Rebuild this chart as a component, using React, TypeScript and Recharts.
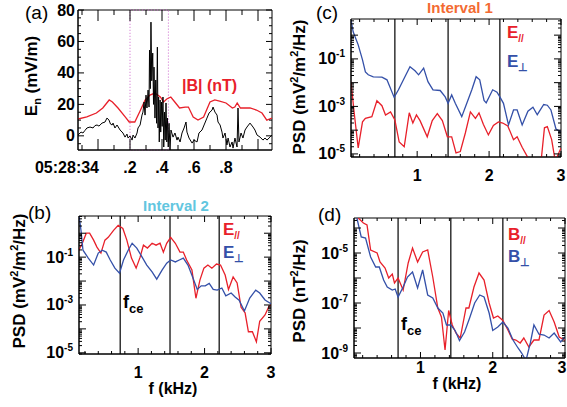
import React from 'react'
import { LineChart, Line, XAxis, YAxis, ReferenceLine, ReferenceArea } from 'recharts'

const FONT = 'Liberation Sans, Arial, Helvetica, sans-serif'
const RED = '#e8202a'
const BLUE = '#3450a8'
const ORANGE = '#f36b32'
const CYAN = '#62c6df'
const PAGE_W = 567

// ---- (a) time series, seconds after 05:28:34 ----
const enTime = [
  -0.125, -0.106, -0.094, -0.081, -0.069, -0.05, -0.031, -0.019, -0.006, 0.006, 0.025, 0.044, 0.056, 0.069,
  0.078, 0.088, 0.094, 0.106, 0.119, 0.138, 0.156, 0.169, 0.181, 0.188, 0.2, 0.213, 0.219, 0.231, 0.244, 0.25,
  0.263, 0.275, 0.281, 0.288, 0.294, 0.3, 0.306, 0.313, 0.319, 0.322, 0.327, 0.331, 0.336, 0.342, 0.347, 0.35,
  0.356, 0.361, 0.366, 0.371, 0.375, 0.379, 0.383, 0.388, 0.392, 0.397, 0.401, 0.406, 0.411, 0.416, 0.42,
  0.425, 0.43, 0.434, 0.439, 0.444, 0.45, 0.456, 0.469, 0.481, 0.494, 0.5, 0.513, 0.525, 0.538, 0.55, 0.556,
  0.569, 0.588, 0.6, 0.619, 0.631, 0.65, 0.663, 0.681, 0.694, 0.713, 0.719, 0.731, 0.744, 0.75, 0.763, 0.775,
  0.781, 0.794, 0.806, 0.813, 0.825, 0.838, 0.844, 0.856, 0.869, 0.875, 0.881, 0.894, 0.906, 0.919, 0.931,
  0.95, 0.969, 0.981, 0.994, 1.013, 1.031, 1.044, 1.056, 1.075, 1.0875,
]
const enValues = [
  0.5, 2.4, 1.8, 3.5, 5, 5.6, 5, 6.5, 6.9, 6.2, 8.1, 8.8, 11.3, 10,
  7.5, 6.9, 8.1, 5, 6.9, 3.7, 1.8, -0.8, 1.1, -1.4, -0.1, -2.7, 0.5, -1.4, 1.8, 5,
  6.9, 13.2, 15.1, 21.5, 13.2, 25.9, 17.7, 29.1, 18.3, 54.5, 30, 72.3, 35, 52.6, 20, 43.7,
  11.3, 35.5, 8, 56.4, 5, 24.7, -3.9, 22.8, 2.4, 21.5, 6, 24.7, -7.1, 15.1, -2.7,
  20.9, -3.9, 11.3, -7.1, 8, -9, 3.7, -0.8, 1.8, -2.7, -0.8, -3.9, 1.8, 5, 8.8, 2.4,
  -1.4, -4.6, -2.7, -3.9, 1.8, 3.7, 6.9, 11.3, 14.5, 16.4, 18.3, 15.1, 13.2, 8.8, 6.9, 2.4,
  -1.4, 1.8, -5.8, -1.4, -7.1, -3.9, -7.8, -1.4, -7.1, 17.7, -3.9, 1.8, -1.4, 3.7, 5.6,
  8.1, 5.6, 3.7, 0.5, -0.8, -2.7, -1.4, -2.7, -0.8, 0.5,
]
const bTime = [
  -0.125, -0.07, -0.01, 0.03, 0.07, 0.09, 0.125, 0.17, 0.195, 0.23, 0.26, 0.295, 0.325, 0.355, 0.39, 0.41,
  0.43, 0.455, 0.48, 0.51, 0.545, 0.565, 0.595, 0.625, 0.66, 0.7, 0.73, 0.76, 0.8, 0.84, 0.855, 0.87, 0.89,
  0.92, 0.95, 0.99, 1.025, 1.055, 1.0875,
]
const bValues = [
  10.7, 12, 14.5, 17.7, 22.8, 21.5, 17.7, 12, 8.8, 8.8, 15.1, 22.8, 25.9, 27.2, 24.7, 21.5,
  23.4, 24.7, 21.5, 17.7, 18.3, 18.3, 12, 10, 12, 21.5, 22.8, 22.1, 20.9, 17.7, 18.3, 20.9, 17.7,
  17.7, 17.7, 16.4, 14.5, 10, 11.3,
]
const timeTicks = [-0.1, 0, 0.1, 0.2, 0.3, 0.4, 0.5, 0.6, 0.7, 0.8, 0.9, 1.0]
const timeLabels: Record<string, string> = { '0': '05:28:34', '0.2': '.2', '0.4': '.4', '0.6': '.6', '0.8': '.8' }
const enTicks = [-5, 0, 5, 10, 15, 20, 25, 30, 35, 40, 45, 50, 55, 60, 65, 70, 75, 80]
const enLabels = [0, 20, 40, 60, 80]

// ---- (b) interval 2, electric PSD (log10 values) ----
const bParF = [
  0.1, 0.16, 0.22, 0.27, 0.33, 0.38, 0.44, 0.5, 0.55, 0.63, 0.7, 0.77, 0.83, 0.9, 0.97, 1.03, 1.08, 1.14,
  1.21, 1.27, 1.33, 1.38, 1.43, 1.49, 1.56, 1.63, 1.68, 1.73, 1.81, 1.87, 1.93, 1.99, 2.05, 2.11, 2.18, 2.24,
  2.31, 2.36, 2.43, 2.49, 2.55, 2.61, 2.66, 2.72, 2.78, 2.83, 2.91, 2.97, 3.0,
]
const bParLog = [
  -0.75, -0.42, 0, 0, -0.29, -0.58, -0.83, -0.29, -0.17, 0.12, 0.33, 0.2, -0.29, -1.04, -1.46, -1.0, -0.5, -0.62,
  -0.42, -0.5, -0.42, -0.79, -0.42, -0.17, -0.42, -0.79, -0.79, -1.12, -1.54, -2.72, -1.96, -1.46, -1.33, -1.46, -1.29, -1.33,
  -1.75, -2.35, -1.83, -2.08, -3.1, -3.33, -4.12, -4.12, -4.54, -3.68, -3.42, -3.05, -3.0,
]
const bPerpF = [
  0.11, 0.14, 0.17, 0.25, 0.33, 0.4, 0.46, 0.52, 0.58, 0.65, 0.72, 0.78, 0.85, 0.91, 0.98, 1.06, 1.13, 1.21,
  1.28, 1.36, 1.43, 1.49, 1.56, 1.62, 1.68, 1.75, 1.82, 1.89, 1.95, 2.01, 2.07, 2.13, 2.19, 2.26, 2.32, 2.4,
  2.46, 2.52, 2.6, 2.68, 2.77, 2.83, 2.91, 3.0,
]
const bPerpLog = [
  0.75, 0.12, -0.71, -1.04, -1.33, -0.83, -0.71, -0.79, -1.12, -1.46, -1.67, -1.12, -0.71, -0.42, -0.62, -1.0, -1.33, -1.62,
  -1.92, -1.54, -1.25, -1.12, -1.2, -1.12, -1.04, -1.33, -1.83, -2.35, -2.2, -2.2, -2.1, -2.35, -2.38, -2.29, -2.62, -2.5,
  -2.67, -2.8, -3.25, -2.71, -2.38, -2.5, -2.79, -2.95,
]

// ---- (c) interval 1, electric PSD ----
const cParF = [
  0.08, 0.12, 0.18, 0.24, 0.28, 0.37, 0.44, 0.51, 0.56, 0.63, 0.69, 0.75, 0.82, 0.89, 0.94, 0.99, 1.04, 1.14,
  1.21, 1.28, 1.35, 1.42, 1.48, 1.54, 1.6, 1.67, 1.74, 1.81, 1.86, 1.92, 1.99, 2.06, 2.13, 2.19, 2.26, 2.34,
  2.39, 2.46, 2.53, 2.6, 2.67, 2.72, 2.77, 2.81, 2.87, 2.92, 3.0,
]
const cParLog = [
  -1.96, -3.15, -4.75, -3.65, -3.5, -3.43, -2.76, -2.97, -3.36, -3.23, -3.57, -4.5, -4.7, -3.27, -3.7, -3.36, -3.6, -4.28,
  -3.6, -3.3, -3.6, -4.28, -4.28, -4.96, -4.9, -4.12, -3.23, -3.5, -3.27, -3.75, -4.2, -3.8, -3.65, -3.7, -3.82, -4.4,
  -4.28, -4.72, -5.1, -5.4, -5.3, -5.4, -3.9, -3.85, -4.4, -5.3, -4.75,
]
const cPerpF = [
  0.08, 0.11, 0.18, 0.24, 0.28, 0.32, 0.39, 0.51, 0.58, 0.68, 0.74, 0.83, 0.9, 0.97, 1.02, 1.09, 1.15, 1.22,
  1.32, 1.39, 1.43, 1.48, 1.53, 1.62, 1.69, 1.76, 1.82, 1.87, 1.93, 1.96, 2.05, 2.11, 2.15, 2.2, 2.27, 2.34,
  2.39, 2.46, 2.54, 2.61, 2.67, 2.76, 2.81, 2.86, 2.93, 3.0,
]
const cPerpLog = [
  0.64, 0.14, -0.41, -1.04, -1.55, -1.67, -1.76, -1.77, -1.88, -2.62, -2.3, -1.75, -1.33, -1.5, -1.67, -1.39, -1.96, -2.3,
  -2.33, -2.6, -2.87, -2.52, -2.87, -3.43, -2.87, -2.3, -1.75, -1.88, -2.75, -2.85, -2.3, -2.4, -2.6, -2.87, -3.78, -3.15,
  -3.15, -3.78, -3.2, -3.03, -3.35, -2.92, -2.95, -3.15, -3.95, -4.07,
]

// ---- (d) magnetic PSD ----
const dParF = [
  0.12, 0.21, 0.26, 0.31, 0.4, 0.44, 0.51, 0.56, 0.61, 0.64, 0.69, 0.76, 0.83, 0.89, 0.96, 1.03, 1.1, 1.17,
  1.24, 1.29, 1.34, 1.39, 1.44, 1.49, 1.55, 1.63, 1.67, 1.74, 1.81, 1.88, 1.95, 2.01, 2.07, 2.14, 2.21, 2.27,
  2.32, 2.38, 2.43, 2.5, 2.57, 2.64, 2.71, 2.78, 2.85, 2.92, 3.0,
]
const dParLog = [
  -3.55, -3.8, -3.88, -4.88, -5.0, -5.36, -5.6, -6.0, -5.84, -6.2, -6.0, -6.48, -5.4, -4.8, -5.36, -4.96, -4.88, -5.96,
  -7.2, -7.56, -8.88, -7.3, -7.88, -8.2, -8.4, -7.2, -7.2, -6.36, -5.8, -6.08, -7.0, -7.6, -7.52, -7.7, -8.08, -8.45,
  -8.48, -8.6, -8.4, -8.76, -8.48, -8.48, -7.48, -7.3, -7.76, -8.36, -8.5,
]
const dPerpF = [
  0.12, 0.18, 0.24, 0.31, 0.38, 0.43, 0.49, 0.54, 0.61, 0.65, 0.69, 0.76, 0.82, 0.89, 0.96, 1.03, 1.1, 1.17,
  1.24, 1.31, 1.36, 1.42, 1.48, 1.54, 1.61, 1.68, 1.75, 1.82, 1.88, 1.95, 2.0, 2.07, 2.14, 2.21, 2.28, 2.35,
  2.4, 2.46, 2.52, 2.57, 2.64, 2.71, 2.78, 2.85, 2.94, 3.0,
]
const dPerpLog = [
  -3.6, -4.36, -4.4, -5.16, -5.56, -5.56, -6.08, -6.36, -6.48, -6.44, -6.76, -6.36, -5.96, -5.76, -6.4, -5.68, -6.68, -6.8,
  -7.2, -7.4, -7.88, -7.88, -8.1, -8.5, -8.16, -7.6, -7.0, -6.68, -6.76, -7.4, -8.1, -7.96, -7.76, -8.0, -8.48, -8.8,
  -9.0, -9.3, -8.6, -7.88, -8.25, -8.28, -8.4, -8.2, -8.56, -8.36,
]

const freqTicks = [0.2, 0.4, 0.6, 0.8, 1, 1.2, 1.4, 1.6, 1.8, 2, 2.2, 2.4, 2.6, 2.8, 3]

const rows = (xs: number[], ys: number[], key: string) => xs.map((x, i) => ({ [key]: x, v: ys[i] }))
const logRows = (fs: number[], ls: number[]) => fs.map((f, i) => ({ f, v: 10 ** ls[i] }))

function logTicks(lo: number, hi: number) {
  const out: number[] = []
  for (let e = Math.floor(lo); e <= Math.ceil(hi); e++) {
    for (let m = 1; m < 10; m++) {
      const v = m * 10 ** e
      const l = Math.log10(v)
      if (l >= lo && l <= hi) out.push(v)
    }
  }
  return out
}

type Box = { left: number; top: number; w: number; h: number }
type TickOpts = {
  span: number
  isMajor: (v: number) => boolean
  majorLen: number
  minorLen: number
  render: (v: number, x: number, y: number) => React.ReactNode
}

const xTick = (o: TickOpts) => (p: any) => {
  const { x, y } = p
  const v = p.payload.value
  const len = o.isMajor(v) ? o.majorLen : o.minorLen
  return (
    <g>
      <line x1={x} y1={y} x2={x} y2={y - len} stroke="#000" />
      <line x1={x} y1={y - o.span} x2={x} y2={y - o.span + len} stroke="#000" />
      {o.render(v, x, y)}
    </g>
  )
}

const yTick = (o: TickOpts) => (p: any) => {
  const { x, y } = p
  const v = p.payload.value
  const len = o.isMajor(v) ? o.majorLen : o.minorLen
  return (
    <g>
      <line x1={x} y1={y} x2={x + len} y2={y} stroke="#000" />
      <line x1={x + o.span} y1={y} x2={x + o.span - len} y2={y} stroke="#000" />
      {o.render(v, x, y)}
    </g>
  )
}

const isDecade = (v: number) => Math.abs(Math.log10(v) - Math.round(Math.log10(v))) < 1e-6

const A: Box = { left: 78, top: 10, w: 194, h: 140 }
const B: Box = { left: 79, top: 216, w: 192, h: 138 }
const C: Box = { left: 351, top: 19, w: 210, h: 138 }
const D: Box = { left: 354, top: 218, w: 211, h: 140 }

function TimePanel() {
  const x0 = -0.125
  const x1 = 1.0875
  return (
    <div style={{ position: 'absolute', left: A.left - 60, top: A.top - 10 }}>
      <LineChart width={A.w + 70} height={A.h + 40} margin={{ top: 10, right: 10, left: 0, bottom: 0 }}>
        <XAxis
          type="number"
          dataKey="t"
          domain={[x0, x1]}
          allowDataOverflow
          ticks={timeTicks}
          interval={0}
          tickSize={0}
          tickMargin={0}
          tickLine={false}
          axisLine={{ stroke: '#000' }}
          height={30}
          tick={xTick({
            span: A.h,
            isMajor: (v) => Math.round(v * 10) % 2 === 0,
            majorLen: 11,
            minorLen: 5,
            render: (v, x, y) => {
              const t = timeLabels[String(Math.round(v * 10) / 10)]
              if (!t) return null
              const first = t.length > 3
              return (
                <text x={first ? x + 1 : x} y={y + 23} textAnchor={first ? 'end' : 'middle'} fontFamily={FONT} fontWeight="bold" fontSize={16}>
                  {t}
                </text>
              )
            },
          })}
        />
        <YAxis
          type="number"
          domain={[-9, 80]}
          allowDataOverflow
          ticks={enTicks}
          interval={0}
          tickSize={0}
          tickMargin={0}
          tickLine={false}
          axisLine={{ stroke: '#000' }}
          width={60}
          tick={yTick({
            span: A.w,
            isMajor: (v) => v % 20 === 0,
            majorLen: 6,
            minorLen: 3,
            render: (v, x, y) =>
              enLabels.includes(v) ? (
                <text x={x - 3} y={y + 5.5} textAnchor="end" fontFamily={FONT} fontWeight="bold" fontSize={16}>
                  {v}
                </text>
              ) : null,
          })}
        />
        <ReferenceArea x1={x0} x2={x1} y1={-9} y2={80} fill="none" stroke="#000" ifOverflow="visible" />
        <ReferenceArea x1={0.2} x2={0.44} y1={-9} y2={80} fill="none" stroke="#cc66cc" strokeDasharray="1 2" ifOverflow="visible" />
        <Line data={rows(bTime, bValues, 't')} dataKey="v" type="linear" stroke={RED} strokeWidth={1.3} dot={false} isAnimationActive={false} />
        <Line data={rows(enTime, enValues, 't')} dataKey="v" type="linear" stroke="#000" strokeWidth={1} dot={false} isAnimationActive={false} />
      </LineChart>
    </div>
  )
}

type Series = { rows: { f: number; v: number }[]; color: string }

function PsdPanel({ box, xMin, logMin, logMax, labeled, fce, labelDy, series }: {
  box: Box
  xMin: number
  logMin: number
  logMax: number
  labeled: number[]
  fce: number[]
  labelDy: number
  series: Series[]
}) {
  const yMin = 10 ** logMin
  const yMax = 10 ** logMax
  // keep the last frequency label inside the page
  const maxLabelX = PAGE_W - (box.left - 60) - 5
  return (
    <div style={{ position: 'absolute', left: box.left - 60, top: box.top - 10 }}>
      <LineChart width={box.w + 70} height={box.h + 40} margin={{ top: 10, right: 10, left: 0, bottom: 0 }}>
        <XAxis
          type="number"
          dataKey="f"
          domain={[xMin, 3]}
          allowDataOverflow
          ticks={freqTicks.filter((t) => t >= xMin)}
          interval={0}
          tickSize={0}
          tickMargin={0}
          tickLine={false}
          axisLine={{ stroke: '#000' }}
          height={30}
          tick={xTick({
            span: box.h,
            isMajor: (v) => Number.isInteger(v),
            majorLen: 6,
            minorLen: 3,
            render: (v, x, y) =>
              Number.isInteger(v) ? (
                <text x={Math.min(x, maxLabelX)} y={y + labelDy} textAnchor="middle" fontFamily={FONT} fontWeight="bold" fontSize={16}>
                  {v}
                </text>
              ) : null,
          })}
        />
        <YAxis
          type="number"
          scale="log"
          domain={[yMin, yMax]}
          allowDataOverflow
          ticks={logTicks(logMin, logMax)}
          interval={0}
          tickSize={0}
          tickMargin={0}
          tickLine={false}
          axisLine={{ stroke: '#000' }}
          width={60}
          tick={yTick({
            span: box.w,
            isMajor: isDecade,
            majorLen: 7,
            minorLen: 3,
            render: (v, x, y) => {
              const e = Math.round(Math.log10(v))
              if (!isDecade(v) || !labeled.includes(e)) return null
              return (
                <text x={x - 6} y={y + 5.5} textAnchor="end" fontFamily={FONT} fontWeight="bold" fontSize={16}>
                  10
                  <tspan fontSize={10} dy={-7}>
                    {e}
                  </tspan>
                </text>
              )
            },
          })}
        />
        <ReferenceArea x1={xMin} x2={3} y1={yMin} y2={yMax} fill="none" stroke="#000" ifOverflow="visible" />
        {fce.map((f) => (
          <ReferenceLine key={f} x={f} stroke="#000" strokeWidth={1.2} />
        ))}
        {series.map((s, i) => (
          <Line key={i} data={s.rows} dataKey="v" type="linear" stroke={s.color} strokeWidth={1.3} dot={false} isAnimationActive={false} />
        ))}
      </LineChart>
    </div>
  )
}

const sub = (t: string, size: number, dy: number) => (
  <>
    <tspan fontSize={size} dy={dy}>
      {t}
    </tspan>
    <tspan dy={-dy}> </tspan>
  </>
)

function Overlay() {
  const bold = { fontFamily: FONT, fontWeight: 'bold' as const }
  return (
    <svg width={567} height={407} style={{ position: 'absolute', left: 0, top: 0, pointerEvents: 'none' }}>
      <g fontFamily={FONT} fontSize={19}>
        <text x={25} y={19}>(a)</text>
        <text x={316} y={19}>(c)</text>
        <text x={28} y={219}>(b)</text>
        <text x={318} y={221}>(d)</text>
      </g>
      <text x={182} y={91} fill={RED} fontSize={16} {...bold}>|B| (nT)</text>
      <text x={460} y={12.5} fill={ORANGE} fontSize={15} textAnchor="middle" {...bold}>Interval 1</text>
      <text x={176} y={211} fill={CYAN} fontSize={15} textAnchor="middle" {...bold}>Interval 2</text>

      <text transform="translate(37,76) rotate(-90)" textAnchor="middle" fontSize={17} {...bold}>
        E<tspan fontSize={11} dy={4}>n</tspan>
        <tspan dy={-4}> (mV/m)</tspan>
      </text>
      {[
        { x: 25, y: 281 },
        { x: 305, y: 87 },
      ].map((p, i) => (
        <text key={i} transform={`translate(${p.x},${p.y}) rotate(-90)`} textAnchor="middle" fontSize={17} {...bold}>
          PSD (mV<tspan fontSize={11} dy={-7}>2</tspan>
          <tspan dy={7}>/m</tspan>
          <tspan fontSize={11} dy={-7}>2</tspan>
          <tspan dy={7}>/Hz)</tspan>
        </text>
      ))}
      <text transform="translate(305,291) rotate(-90)" textAnchor="middle" fontSize={17} {...bold}>
        PSD (nT<tspan fontSize={11} dy={-7}>2</tspan>
        <tspan dy={7}>/Hz)</tspan>
      </text>

      {[
        { x: 507, y1: 38, y2: 67, l: 'E' },
        { x: 223, y1: 235, y2: 258, l: 'E' },
        { x: 508, y1: 240, y2: 262, l: 'B' },
      ].map((p, i) => (
        <g key={i} fontSize={17} {...bold}>
          <text x={p.x} y={p.y1} fill={RED}>
            {p.l}
            {sub('//', 10, 4)}
          </text>
          <text x={p.x} y={p.y2} fill={BLUE}>
            {p.l}
            {sub('\u22a5', 11, 4)}
          </text>
        </g>
      ))}

      {[
        { x: 123, y: 308 },
        { x: 401, y: 330 },
      ].map((p, i) => (
        <text key={i} x={p.x} y={p.y} fontSize={18} {...bold}>
          f<tspan fontSize={13} dy={5}>ce</tspan>
        </text>
      ))}

      <text x={173} y={394} textAnchor="middle" fontSize={16} {...bold}>f (kHz)</text>
      <text x={457} y={389} textAnchor="middle" fontSize={16} {...bold}>f (kHz)</text>
    </svg>
  )
}

export default function App() {
  return (
    <div style={{ position: 'absolute', left: 0, top: 0, width: 567, height: 407, background: '#fff' }}>
      <TimePanel />
      <PsdPanel
        box={B}
        xMin={0.11}
        logMin={-5.05}
        logMax={0.72}
        labeled={[-5, -3, -1]}
        fce={[0.73, 1.48, 2.22]}
        labelDy={23.5}
        series={[
          { rows: logRows(bParF, bParLog), color: RED },
          { rows: logRows(bPerpF, bPerpLog), color: BLUE },
        ]}
      />
      <PsdPanel
        box={C}
        xMin={0.08}
        logMin={-5.13}
        logMax={0.68}
        labeled={[-5, -3, -1]}
        fce={[0.69, 1.43, 2.15]}
        labelDy={23.5}
        series={[
          { rows: logRows(cParF, cParLog), color: RED },
          { rows: logRows(cPerpF, cPerpLog), color: BLUE },
        ]}
      />
      <PsdPanel
        box={D}
        xMin={0.08}
        logMin={-9.2}
        logMax={-3.6}
        labeled={[-9, -7, -5]}
        fce={[0.69, 1.42, 2.14]}
        labelDy={15}
        series={[
          { rows: logRows(dParF, dParLog), color: RED },
          { rows: logRows(dPerpF, dPerpLog), color: BLUE },
        ]}
      />
      <Overlay />
    </div>
  )
}
